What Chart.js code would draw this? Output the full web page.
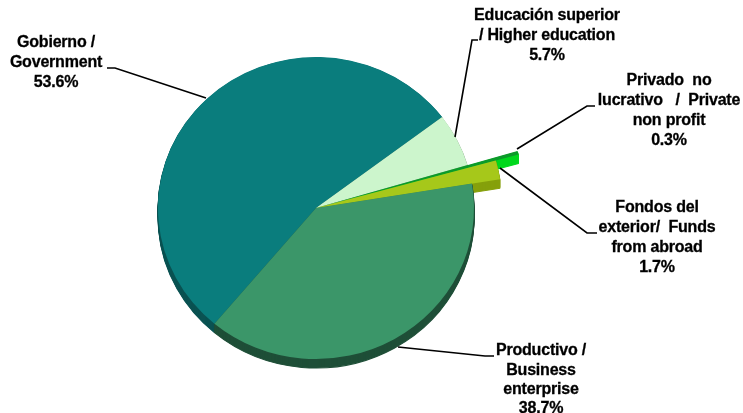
<!DOCTYPE html>
<html><head><meta charset="utf-8">
<style>html,body{margin:0;padding:0;background:#fff}canvas{display:block}</style>
<script src="https://cdn.jsdelivr.net/npm/chart.js@4"></script></head>
<body><canvas id="c" width="743" height="413"></canvas>
<script>
const categories = ["Gobierno / Government","Educación superior / Higher education","Privado no lucrativo / Private non profit","Fondos del exterior / Funds from abroad","Productivo / Business enterprise"];
const values = [53.6,5.7,0.3,1.7,38.7];
const colors = ["#0a7d7d","#ccf5cc","#0c9a2a","#a6c81a","#3b9669"];
const sideColors = ["#0a5252","#8aa88a","#00d81e","#86a00c","#1f4f38"];
const radiusFactors = [1,1,1.33,1.18,1];
const labelLines = [
 ["Gobierno /","Government","53.6%"],
 ["Educación superior","/ Higher education","5.7%"],
 ["Privado  no","lucrativo   /  Private","non profit","0.3%"],
 ["Fondos del","exterior/  Funds","from abroad","1.7%"],
 ["Productivo /","Business","enterprise","38.7%"]];
const labelAnchors = [[56,43],[547,16],[669,81],[657,208],[541,351]];
const lineSteps = [20,20,20,20,19.3];
const leaders = [
 [[107,68],[115,68],[206,98]],
 [[478,40],[472,40],[455,137]],
 [[595,106],[587,106],[517,149]],
 [[597,233],[587,233],[500,168]],
 [[398,347],[485,356],[494,356]]];
const DEPTH = 9, SX = 158/151;
const pie3d = {
 id:'pie3d',
 afterDatasetsUpdate(chart){
  chart.getDatasetMeta(0).data.forEach((a,i)=>{a.outerRadius = a.outerRadius*radiusFactors[i];});
 },
 beforeDatasetsDraw(chart){
  const ctx=chart.ctx, arcs=chart.getDatasetMeta(0).data, c=arcs[0];
  ctx.save();
  ctx.translate(c.x,c.y);ctx.scale(SX,1);ctx.translate(-c.x,-c.y);
  for(let d=DEPTH;d>=1;d--){
   ctx.save();ctx.translate(0,d);
   arcs.forEach((a,i)=>{const o=a.options;a.options=Object.assign({},o,{backgroundColor:sideColors[i],borderColor:sideColors[i],borderWidth:1});a.draw(ctx);a.options=o;});
   ctx.restore();
  }
 },
 afterDatasetsDraw(chart){
  const ctx=chart.ctx;
  ctx.restore();
  ctx.strokeStyle='#000';ctx.lineWidth=1.6;
  leaders.forEach(l=>{ctx.beginPath();l.forEach((p,k)=>k?ctx.lineTo(p[0],p[1]):ctx.moveTo(p[0],p[1]));ctx.stroke();});
  ctx.fillStyle='#000';ctx.font='bold 16px "Liberation Sans"';ctx.letterSpacing='-0.2px';ctx.textAlign='center';ctx.textBaseline='middle';
  ctx.lineWidth=0.3;
  labelLines.forEach((ls,i)=>ls.forEach((t,j)=>{const x=labelAnchors[i][0],y=labelAnchors[i][1]+j*lineSteps[i];ctx.fillText(t,x,y);ctx.strokeText(t,x,y);}));
 }
};
new Chart(document.getElementById('c'),{
 type:'pie',
 data:{labels:categories,datasets:[{data:values,backgroundColor:colors,borderWidth:0}]},
 options:{responsive:false,animation:false,rotation:220,
  layout:{padding:{left:165,right:276,top:57,bottom:54}},
  plugins:{legend:{display:false},tooltip:{enabled:false}}},
 plugins:[pie3d]
});
</script></body></html>
